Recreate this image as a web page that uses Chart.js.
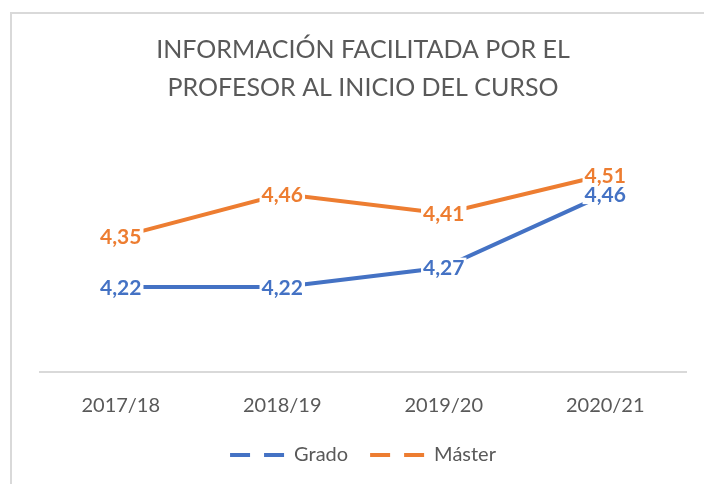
<!DOCTYPE html>
<html>
<head>
<meta charset="utf-8">
<script src="https://cdn.jsdelivr.net/npm/chart.js@4/dist/chart.umd.min.js"></script>
<style>
  html, body { margin: 0; padding: 0; background: #fff; overflow: hidden; }
  #wrap { position: relative; width: 704px; height: 484px; }
  #frame {
    position: absolute; left: 10px; top: 12px; width: 720px; height: 500px;
    border-left: 2px solid #d9d9d9; border-top: 2px solid #d9d9d9;
  }
  canvas { position: absolute; left: 0; top: 0; }
</style>
</head>
<body>
<div id="wrap">
  <div id="frame"></div>
  <canvas id="chart" width="704" height="484"></canvas>
</div>
<script>
// ─── Data ─────────────────────────────────────────────────────────────────────

const categories = ["2017/18", "2018/19", "2019/20", "2020/21"];
const grado = [4.22, 4.22, 4.27, 4.46];
const master = [4.35, 4.46, 4.41, 4.51];
const seriesNames = ["Grado", "Máster"];
const yMin = 4.0;
const yMax = 4.6;

const BLUE = "#4472C4";
const ORANGE = "#ED7D31";
const GREY_TEXT = "#595959";
const FONT = "Lato, 'Open Sans', sans-serif";

// ─── Data labels (value with comma decimal, white box behind) ───────────────

const valueLabels = {
  id: "valueLabels",
  afterDatasetsDraw(chart) {
    const ctx = chart.ctx;
    ctx.save();
    ctx.font = `bold 21px ${FONT}`;
    ctx.textAlign = "center";
    ctx.textBaseline = "middle";
    chart.data.datasets.forEach((ds, i) => {
      const meta = chart.getDatasetMeta(i);
      meta.data.forEach((pt, j) => {
        const text = ds.data[j].toFixed(2).replace(".", ",");
        const w = ctx.measureText(text).width + 4;
        ctx.fillStyle = "#fff";
        ctx.fillRect(pt.x - w / 2, pt.y - 10, w, 20);
        ctx.fillStyle = ds.borderColor;
        ctx.fillText(text, pt.x, pt.y + 1);
      });
    });
    ctx.restore();
  },
};

// ─── Chart ────────────────────────────────────────────────────────────────────

new Chart(document.getElementById("chart"), {
  type: "line",
  data: {
    labels: categories,
    datasets: [
      {
        label: seriesNames[0],
        data: grado,
        borderColor: BLUE,
        backgroundColor: BLUE,
        borderWidth: 4,
        pointRadius: 0,
        tension: 0,
      },
      {
        label: seriesNames[1],
        data: master,
        borderColor: ORANGE,
        backgroundColor: ORANGE,
        borderWidth: 4,
        pointRadius: 0,
        tension: 0,
      },
    ],
  },
  options: {
    responsive: false,
    animation: false,
    devicePixelRatio: 1,
    layout: { padding: { left: 40, right: 18, top: 0, bottom: 9 } },
    plugins: {
      title: {
        display: true,
        text: ["INFORMACIÓN FACILITADA POR EL", "PROFESOR AL INICIO DEL CURSO"],
        color: GREY_TEXT,
        font: { family: FONT, size: 25, weight: "normal", lineHeight: 1.52 },
        padding: { top: 31, bottom: 33 },
      },
      legend: {
        position: "bottom",
        labels: {
          color: GREY_TEXT,
          font: { family: FONT, size: 20 },
          usePointStyle: true,
          pointStyleWidth: 54,
          padding: 22,
          generateLabels: (chart) =>
            chart.data.datasets.map((ds, i) => ({
              text: ds.label,
              fillStyle: ds.borderColor,
              strokeStyle: ds.borderColor,
              lineWidth: 4,
              lineDash: [20, 14],
              lineCap: "butt",
              pointStyle: "line",
              fontColor: GREY_TEXT,
              datasetIndex: i,
            })),
        },
      },
      tooltip: { enabled: false },
    },
    scales: {
      x: {
        offset: true,
        grid: { display: false, drawTicks: false },
        border: { display: true, color: "#d9d9d9", width: 2 },
        ticks: {
          color: GREY_TEXT,
          font: { family: FONT, size: 20 },
          padding: 22,
          maxRotation: 0,
        },
        afterFit: (scale) => { scale.height = 51; },
      },
      y: {
        display: false,
        min: yMin,
        max: yMax,
      },
    },
  },
  plugins: [valueLabels],
});
</script>
</body>
</html>
